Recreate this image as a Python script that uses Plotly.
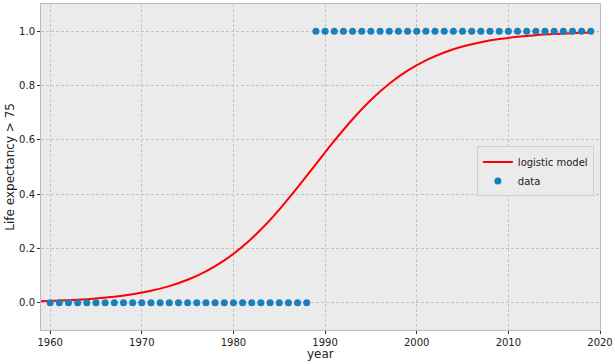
import plotly.graph_objects as go

# data points
years0 = list(range(1960, 1989))
vals0 = [0] * len(years0)
years1 = list(range(1989, 2020))
vals1 = [1] * len(years1)
data_years = years0 + years1
data_vals = vals0 + vals1

# logistic model curve
model_years = [1959, 1961, 1963, 1965, 1967, 1969, 1971, 1973, 1975, 1977, 1979,
               1981, 1983, 1985, 1987, 1989, 1991, 1993, 1995, 1997, 1999,
               2001, 2003, 2005, 2007, 2009, 2011, 2013, 2015, 2017, 2019]
model_vals = [0.0058, 0.0082, 0.0115, 0.0162, 0.0227, 0.0317, 0.0443, 0.0615, 0.0848,
              0.1158, 0.1562, 0.2073, 0.2699, 0.3433, 0.4248, 0.5107, 0.5960, 0.6759,
              0.7467, 0.8065, 0.8548, 0.8928, 0.9217, 0.9433, 0.9592, 0.9708, 0.9792,
              0.9852, 0.9894, 0.9925, 0.9947]

x_ticks = [1960, 1970, 1980, 1990, 2000, 2010, 2020]
y_ticks = [0.0, 0.2, 0.4, 0.6, 0.8, 1.0]

font = "DejaVu Sans"

fig = go.Figure()
fig.add_trace(go.Scatter(x=model_years, y=model_vals, mode="lines", name="logistic model",
                         line=dict(color="#ff0000", width=2, shape="spline")))
fig.add_trace(go.Scatter(x=data_years, y=data_vals, mode="markers", name="data",
                         marker=dict(color="#1a80bb", size=7, line=dict(width=0))))

axis_common = dict(showgrid=True, gridcolor="#c4c4c4", griddash="3px,2px", gridwidth=1,
                   showline=True, linecolor="#bcbcbc", linewidth=1, mirror=True,
                   ticks="outside", ticklen=3, tickcolor="#333333",
                   tickfont=dict(family=font, size=10, color="#222222"),
                   zeroline=False, automargin=False)

fig.update_layout(
    width=615, height=364,
    margin=dict(l=41, r=15, t=4, b=34),
    paper_bgcolor="white", plot_bgcolor="#ebebeb",
    font=dict(family=font, size=10, color="#222222"),
    xaxis=dict(range=[1959, 2020], tickvals=x_ticks, **axis_common),
    yaxis=dict(range=[-0.1, 1.1], tickvals=y_ticks, tickformat=".1f", **axis_common),
    legend=dict(x=0.989, y=0.563, xanchor="right", yanchor="top",
                bgcolor="#ebebeb", bordercolor="#d0d0d0", borderwidth=1,
                font=dict(family=font, size=10, color="#222222"),
                itemwidth=30, tracegroupgap=0),
    showlegend=True,
    annotations=[
        dict(text="year", xref="paper", yref="paper", x=0.5, y=-0.074,
             xanchor="center", yanchor="middle", showarrow=False,
             font=dict(family=font, size=12, color="#222222")),
        dict(text="Life expectancy > 75", xref="paper", yref="paper", x=-0.056, y=0.5,
             xanchor="center", yanchor="middle", showarrow=False, textangle=-90,
             font=dict(family=font, size=12, color="#222222")),
    ],
)

fig.write_html("out.html", config={"displayModeBar": False},
               post_script="document.body.style.margin='0';")
